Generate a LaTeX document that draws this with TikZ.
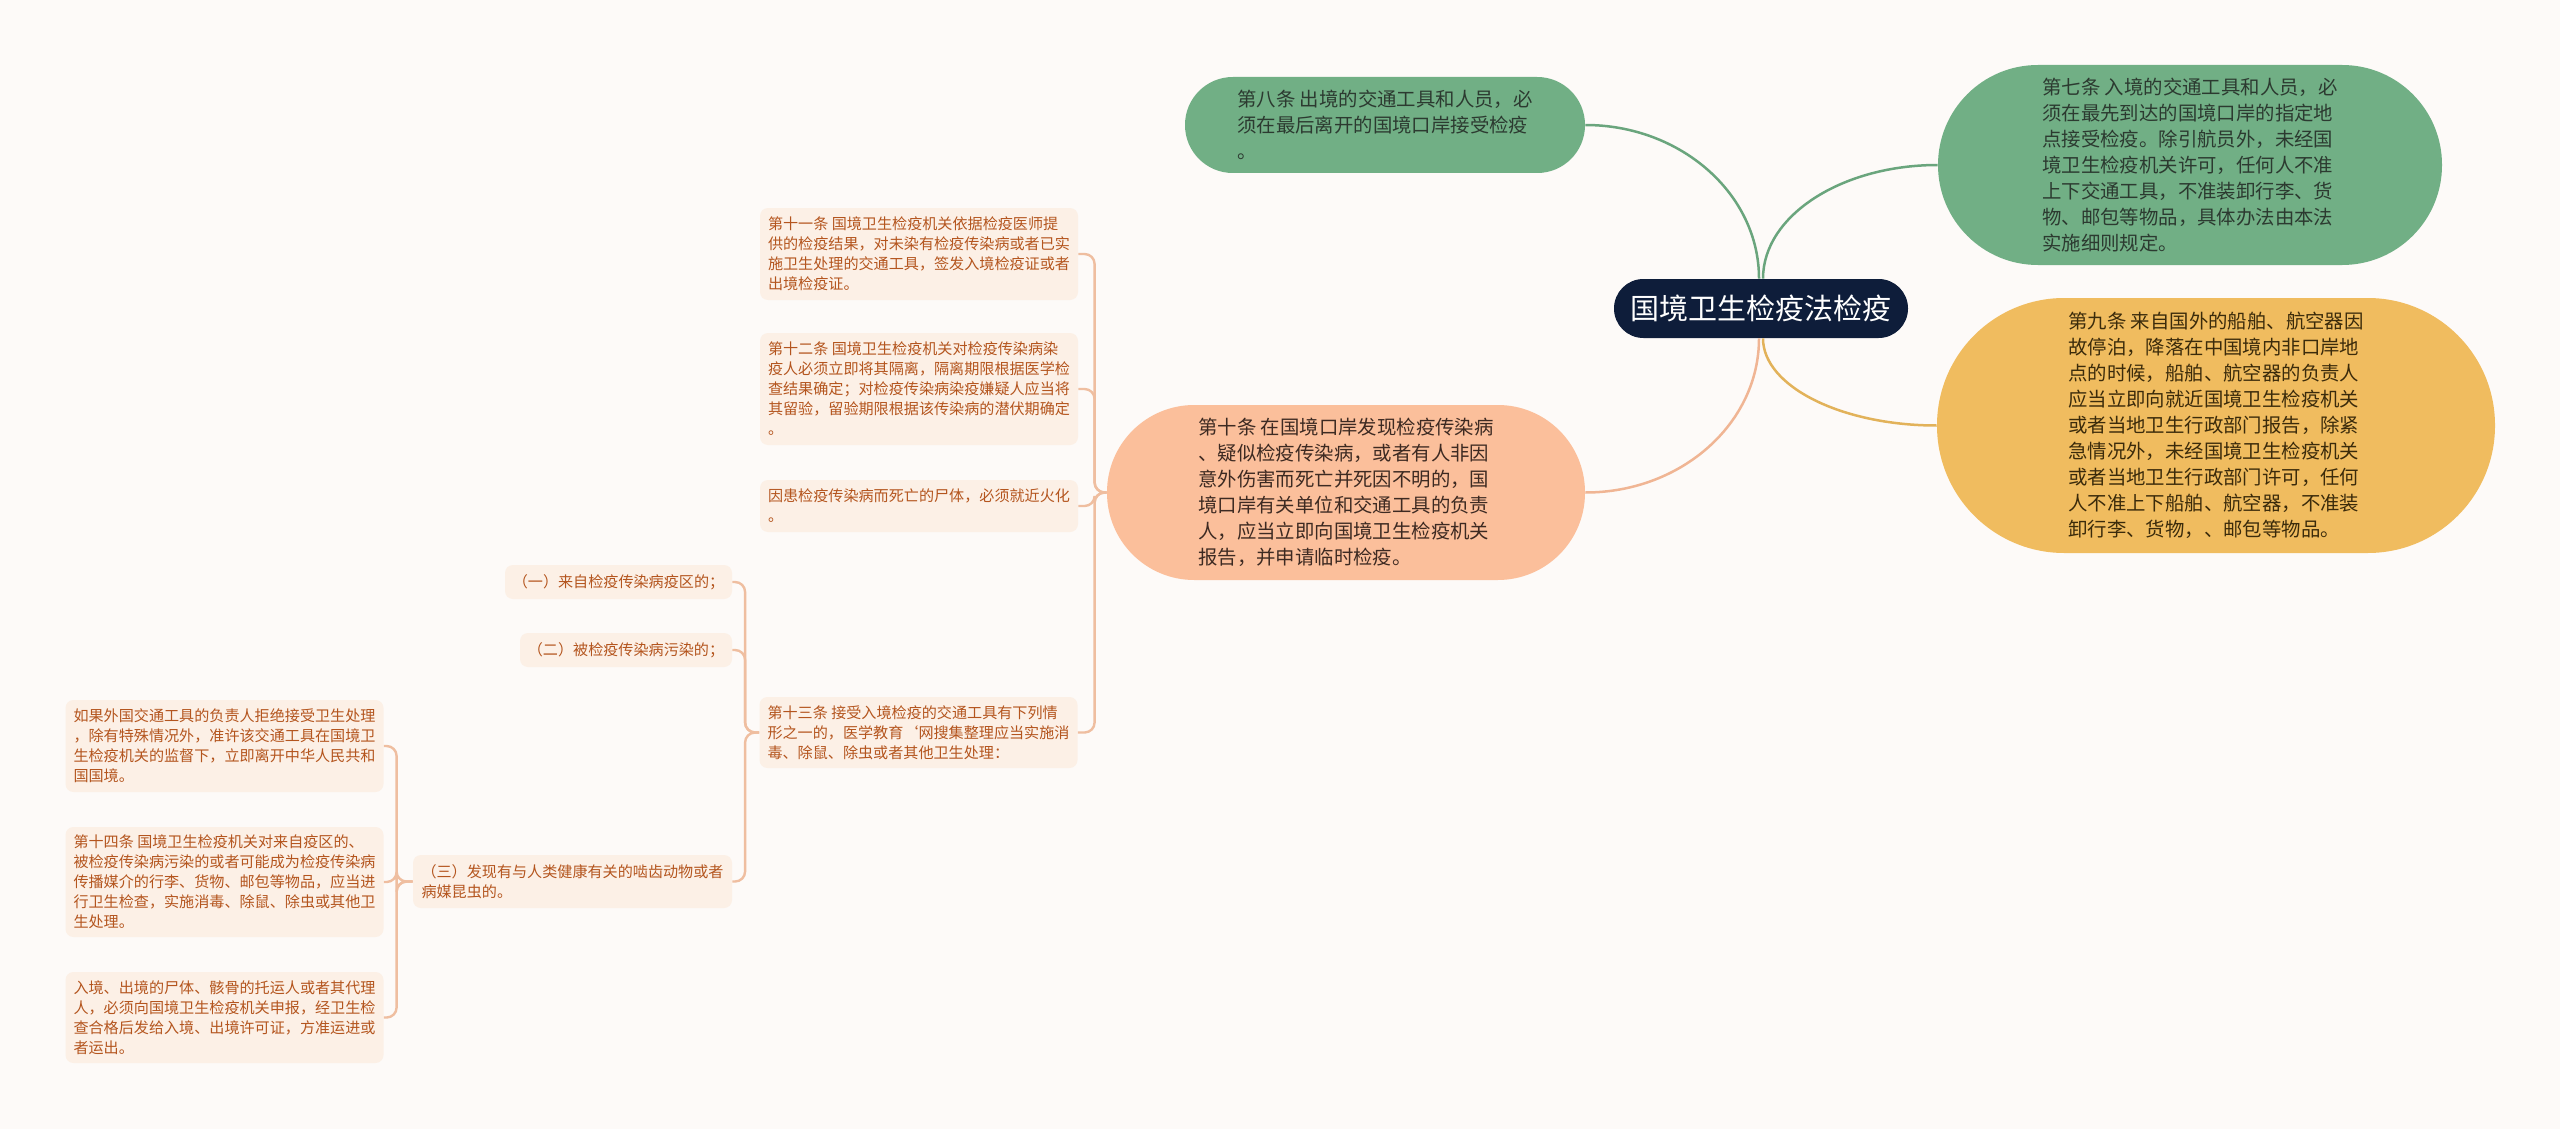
\documentclass[tikz,border=0pt]{standalone}
\usepackage{fontspec}
\setmainfont{Noto Sans CJK SC}
\definecolor{bg}{HTML}{FDFAF8}
\definecolor{gfill}{HTML}{71AF85}
\definecolor{yfill}{HTML}{F0BC5F}
\definecolor{sfill}{HTML}{FBBF9B}
\definecolor{navy}{HTML}{0E1D3A}
\definecolor{leaffill}{HTML}{FCF0E6}
\definecolor{leaftext}{HTML}{B4551E}
\definecolor{gline}{HTML}{6AA57D}
\definecolor{yline}{HTML}{E2B25A}
\definecolor{sline}{HTML}{F0B594}
\definecolor{subline}{HTML}{EFBEA0}
\definecolor{gtext}{HTML}{2C3A30}
\definecolor{ytext}{HTML}{3B2B0B}
\definecolor{stext}{HTML}{3D2A22}
\begin{document}
\begin{tikzpicture}[x=0.5pt,y=-0.5pt,
  mainbox/.style={rectangle, inner sep=0pt, align=left, font=\fontsize{9.7}{13}\selectfont},
  leafbox/.style={rectangle, rounded corners=4pt, fill=leaffill, text=leaftext, inner sep=0pt, align=left, font=\fontsize{7.55}{10}\selectfont, minimum width=159pt},
  conn/.style={line width=1.25pt},
  subconn/.style={line width=1.2pt, draw=subline, rounded corners=5pt}]
\path[use as bounding box, fill=bg] (0,0) rectangle (2560,1129);

% central
\node[rectangle, inner sep=0pt, fill=navy, text=white, rounded corners=14.7pt, minimum width=147pt, minimum height=29.5pt, font=\fontsize{14.5}{18}\selectfont] (c) at (1761,308.5) {国境卫生检疫法检疫};

% main branches
\node[mainbox, fill=gfill, text=gtext, minimum width=200pt, minimum height=48pt, rounded corners=23.9pt] (n8) at (1385,125) {第八条 出境的交通工具和人员，必\\须在最后离开的国境口岸接受检疫\\。};

\node[mainbox, fill=gfill, text=gtext, minimum width=252pt, minimum height=100pt, rounded corners=49.9pt] (n7) at (2190,165) {第七条 入境的交通工具和人员，必\\须在最先到达的国境口岸的指定地\\点接受检疫。除引航员外，未经国\\境卫生检疫机关许可，任何人不准\\上下交通工具，不准装卸行李、货\\物、邮包等物品，具体办法由本法\\实施细则规定。};

\node[mainbox, fill=yfill, text=ytext, minimum width=279pt, minimum height=127.5pt, rounded corners=63.6pt] (n9) at (2216,425.5) {第九条 来自国外的船舶、航空器因\\故停泊，降落在中国境内非口岸地\\点的时候，船舶、航空器的负责人\\应当立即向就近国境卫生检疫机关\\或者当地卫生行政部门报告，除紧\\急情况外，未经国境卫生检疫机关\\或者当地卫生行政部门许可，任何\\人不准上下船舶、航空器，不准装\\卸行李、货物，、邮包等物品。};

\node[mainbox, fill=sfill, text=stext, minimum width=239pt, minimum height=87.5pt, rounded corners=43.6pt] (n10) at (1346,492.5) {第十条 在国境口岸发现检疫传染病\\、疑似检疫传染病，或者有人非因\\意外伤害而死亡并死因不明的，国\\境口岸有关单位和交通工具的负责\\人，应当立即向国境卫生检疫机关\\报告，并申请临时检疫。};

% leaves of 第十条
\node[leafbox, minimum height=46pt] (n11) at (919,254) {第十一条 国境卫生检疫机关依据检疫医师提\\供的检疫结果，对未染有检疫传染病或者已实\\施卫生处理的交通工具，签发入境检疫证或者\\出境检疫证。};
\node[leafbox, minimum height=56pt] (n12) at (919,389) {第十二条 国境卫生检疫机关对检疫传染病染\\疫人必须立即将其隔离，隔离期限根据医学检\\查结果确定；对检疫传染病染疫嫌疑人应当将\\其留验，留验期限根据该传染病的潜伏期确定\\。};
\node[leafbox, minimum height=26pt] (n12b) at (919,506) {因患检疫传染病而死亡的尸体，必须就近火化\\。};
\node[leafbox, minimum height=35.5pt] (n13) at (918.5,732.5) {第十三条 接受入境检疫的交通工具有下列情\\形之一的，医学教育`网搜集整理应当实施消\\毒、除鼠、除虫或者其他卫生处理：};

% leaves of 第十三条
\node[leafbox, minimum width=113.5pt, minimum height=17pt] (a1) at (618.5,582) {（一）来自检疫传染病疫区的；};
\node[leafbox, minimum width=106pt, minimum height=17pt] (a2) at (626,650) {（二）被检疫传染病污染的；};
\node[leafbox, minimum width=159.5pt, minimum height=26.5pt] (a3) at (572.5,881.5) {（三）发现有与人类健康有关的啮齿动物或者\\病媒昆虫的。};

% leaves of (三)
\node[leafbox, minimum height=46pt] (b1) at (224.5,746) {如果外国交通工具的负责人拒绝接受卫生处理\\，除有特殊情况外，准许该交通工具在国境卫\\生检疫机关的监督下，立即离开中华人民共和\\国国境。};
\node[leafbox, minimum height=55pt] (b2) at (224.5,882) {第十四条 国境卫生检疫机关对来自疫区的、\\被检疫传染病污染的或者可能成为检疫传染病\\传播媒介的行李、货物、邮包等物品，应当进\\行卫生检查，实施消毒、除鼠、除虫或其他卫\\生处理。};
\node[leafbox, minimum height=45.5pt] (b3) at (224.5,1017.5) {入境、出境的尸体、骸骨的托运人或者其代理\\人，必须向国境卫生检疫机关申报，经卫生检\\查合格后发给入境、出境许可证，方准运进或\\者运出。};

% main connectors
\draw[conn, draw=gline] (n8.east) .. controls +(95,0) and +(0,-85) .. ([xshift=-1pt]c.north);
\draw[conn, draw=gline] ([xshift=1pt]c.north) .. controls +(0,-63) and +(-96,0) .. (n7.west);
\draw[conn, draw=sline] ([xshift=-1pt]c.south) .. controls +(0,85) and +(96,0) .. (n10.east);
\draw[conn, draw=yline] ([xshift=1pt]c.south) .. controls +(0,48) and +(-95,0) .. (n9.west);

% sub connectors
\foreach \k in {n11,n12,n12b,n13} \draw[subconn] (n10.west) -- ++(-12,0) |- (\k.east);
\foreach \k in {a1,a2,a3} \draw[subconn] (n13.west) -- ++(-14,0) |- (\k.east);
\foreach \k in {b1,b2,b3} \draw[subconn] (a3.west) -- ++(-16,0) |- (\k.east);
\end{tikzpicture}
\end{document}
